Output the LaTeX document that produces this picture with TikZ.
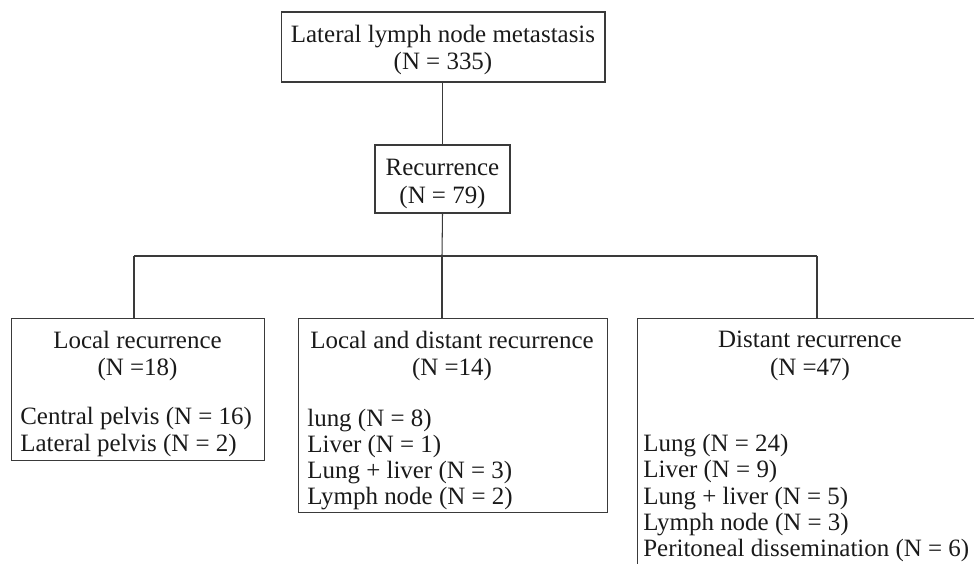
\documentclass[tikz,border=0pt]{standalone}
\usepackage{fontspec}
\setmainfont{Liberation Serif}
\usetikzlibrary{calc, positioning}
\definecolor{boxgray}{HTML}{3A3A3A}
\definecolor{txtgray}{HTML}{1A1A1A}

\tikzset{
  box/.style={draw=boxgray, line width=0.6pt, inner sep=0pt},
  txt/.style={inner sep=0pt, align=center, text=txtgray, font=\fontsize{14.2}{15.9}\selectfont},
  items/.style={txt, align=left, anchor=west, font=\fontsize{14.2}{14.8}\selectfont},
  link/.style={draw=boxgray, line width=0.6pt}
}

\begin{document}
\begin{tikzpicture}[x=0.02cm, y=-0.02cm]
                        \useasboundingbox (0,0) rectangle (974,564);
                        \clip (0,0) rectangle (974,564);

                        % Top of the tree
                        \node[box, minimum width=6.48cm, minimum height=1.4cm] (meta) at (443,47) {};
                        \node[txt] (metatxt) at (443,50) {Lateral lymph node metastasis\\(N = 335)};

                        \node[box, minimum width=2.7cm, minimum height=1.36cm] (rec) at (442.5,179) {};
                        \node[txt] (rectxt) at (442.5,184) {Recurrence\\(N = 79)};

                        % Three branches
                        \node[box, anchor=north west, minimum width=5.06cm, minimum height=2.84cm] (local) at (11,318) {};
                        \node[txt] (localtitle) at (137.5,356) {Local recurrence\\(N =18)};
                        \node[items] (locallist) at (20,432) {Central pelvis (N = 16)\\Lateral pelvis (N = 2)};

                        \node[box, anchor=north west, minimum width=6.18cm, minimum height=3.88cm] (mid) at (298,318) {};
                        \node[txt] (midtitle) at (452,356) {Local and distant recurrence\\(N =14)};
                        \node[items] (midlist) at (307,460) {lung (N = 8)\\Liver (N = 1)\\Lung + liver (N = 3)\\Lymph node (N = 2)};

                        \node[box, anchor=north west, minimum width=6.92cm, minimum height=5.24cm] (dist) at (637,318) {};
                        \node[txt] (disttitle) at (810,356) {Distant recurrence\\(N =47)};
                        \node[items] (distlist) at (643,498) {Lung (N = 24)\\Liver (N = 9)\\Lung + liver (N = 5)\\Lymph node (N = 3)\\Peritoneal dissemination (N = 6)};

                        % Connectors
                        \coordinate (split) at (442,256);
                        \coordinate (jL) at (134,256);
                        \coordinate (jR) at (817,256);

                        \draw[link] (meta.south -| rec.north) -- (rec.north);
                        \draw[link] (rec.south) -- (split);
                        \draw[link] (jL) -- (jR);
                        \draw[link] (jL) -- (jL |- local.north);
                        \draw[link] (split) -- (split |- mid.north);
                        \draw[link] (jR) -- (jR |- dist.north);
                    \end{tikzpicture}
\end{document}
